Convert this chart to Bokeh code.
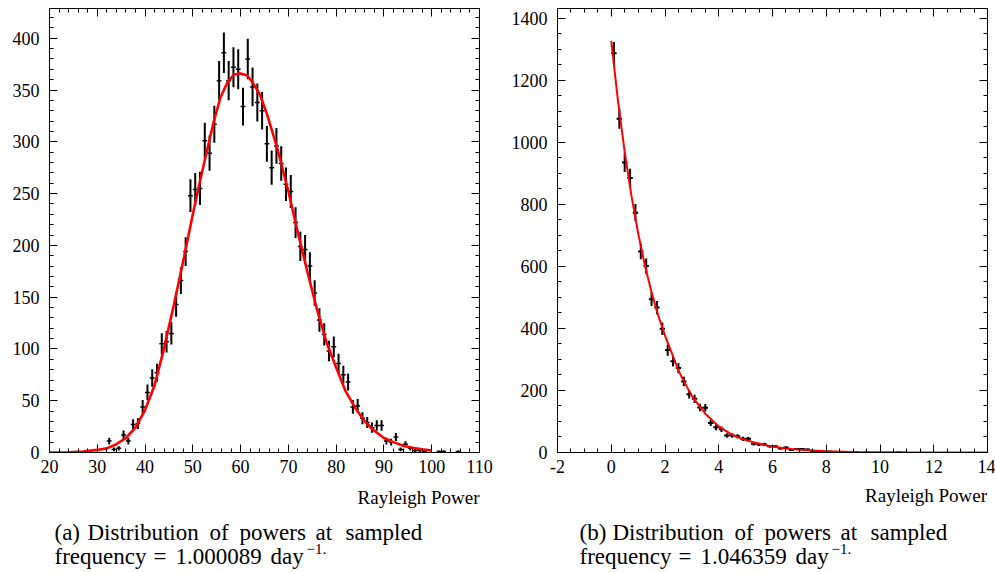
import math
from bokeh.plotting import figure
from bokeh.models import Range1d, LinearAxis, FixedTicker, Label, ColumnDataSource
from bokeh.layouts import row, column
from bokeh.embed import file_html
from bokeh.resources import INLINE

# ---------------- panel (a): histogram of Rayleigh power ----------------
a_bin_width = 1.0
a_x = [32.5, 33.5, 34.5, 35.5, 36.5, 37.5, 38.5, 39.5, 40.5, 41.5,
       42.5, 43.5, 44.5, 45.5, 46.5, 47.5, 48.5, 49.5, 50.5, 51.5,
       52.5, 53.5, 54.5, 55.5, 56.5, 57.5, 58.5, 59.5, 60.5, 61.5,
       62.5, 63.5, 64.5, 65.5, 66.5, 67.5, 68.5, 69.5, 70.5, 71.5,
       72.5, 73.5, 74.5, 75.5, 76.5, 77.5, 78.5, 79.5, 80.5, 81.5,
       82.5, 83.5, 84.5, 85.5, 86.5, 87.5, 88.5, 89.5, 90.5, 91.5,
       92.5, 93.5, 94.5, 95.5, 96.5, 97.5, 98.5, 101.5, 102.5, 105.5]
a_counts = [11, 3, 4, 17, 11, 27, 28, 44, 58, 72,
            77, 105, 107, 115, 143, 166, 194, 248, 254, 255,
            301, 289, 317, 359, 386, 359, 372, 370, 334, 380,
            353, 338, 330, 298, 275, 296, 279, 259, 252, 222,
            199, 196, 180, 154, 128, 114, 98, 102, 86, 75,
            68, 44, 45, 33, 29, 24, 26, 26, 11, 10,
            15, 3, 8, 4, 2, 2, 1, 1, 1, 1]
# fitted curve
a_fit_x = [20, 24, 27, 30, 32, 34, 36, 38, 40, 42, 44, 46, 48, 50, 51.5, 53,
           54.4, 55.8, 57.2, 58.6, 60, 61.4, 62.7, 64.1, 65.5, 67.6, 70, 72,
           74, 76, 78, 80, 82, 84, 86, 88, 90, 92, 94, 96, 98, 100]
a_fit_y = [0, 0.3, 1, 2.5, 4, 8, 14, 24, 41, 65, 101, 142, 185, 230, 262, 292,
           320, 343, 357, 365, 366, 364, 356, 345, 327, 295, 252, 212,
           174, 138, 106, 82, 59, 43, 30, 21, 14, 10, 6.5, 4.5, 3, 1.9]
a_xticks = [20, 30, 40, 50, 60, 70, 80, 90, 100, 110]
a_xminor = [20 + 2 * i for i in range(46)]
a_yticks = [0, 50, 100, 150, 200, 250, 300, 350, 400]
a_yminor = [10 * i for i in range(43)]
a_caption1 = ["(a)", "Distribution", "of", "powers", "at", "sampled"]
a_caption2 = ["frequency", "=", "1.000089", "day"]

# ---------------- panel (b) ----------------
b_bin_width = 0.2
b_x = [0.1, 0.3, 0.5, 0.7, 0.9, 1.1, 1.3, 1.5, 1.7, 1.9,
       2.1, 2.3, 2.5, 2.7, 2.9, 3.1, 3.3, 3.5, 3.7, 3.9,
       4.1, 4.3, 4.5, 4.7, 4.9, 5.1, 5.3, 5.5, 5.7, 5.9,
       6.1, 6.3, 6.5, 6.7, 6.9, 7.1, 7.3, 7.5, 7.7, 7.9,
       8.1, 8.3, 8.5, 8.7, 8.9, 9.1, 9.5, 10.7]
b_counts = [1287, 1076, 935, 885, 773, 648, 601, 494, 467, 399,
            330, 294, 272, 229, 188, 173, 145, 144, 95, 81,
            75, 55, 55, 52, 44, 44, 28, 26, 26, 20,
            20, 13, 16, 8, 11, 11, 10, 5, 4, 3,
            3, 2, 2, 1, 1, 1, 1, 1]
b_fit_x = [0, 0.25, 0.5, 0.75, 1, 1.25, 1.5, 1.75, 2, 2.25, 2.5, 2.75, 3, 3.5,
           4, 4.5, 5, 5.5, 6, 6.5, 7, 8, 9, 10, 11, 12, 14]
b_fit_y = [1327, 1134, 969, 828, 707, 604, 516, 441, 377, 321, 264, 222, 182, 125,
           84, 57, 40, 28, 19, 13, 9, 4, 2, 1, 0.5, 0.3, 0.1]
b_xticks = [-2, 0, 2, 4, 6, 8, 10, 12, 14]
b_xminor = [-2 + 0.5 * i for i in range(33)]
b_yticks = [0, 200, 400, 600, 800, 1000, 1200, 1400]
b_yminor = [50 * i for i in range(29)]
b_caption1 = ["(b)", "Distribution", "of", "powers", "at", "sampled"]
b_caption2 = ["frequency", "=", "1.046359", "day"]

x_title = "Rayleigh Power"
superscript = "\u22121."

SERIF = "Liberation Serif"
TOP_H = 485          # height of the two plot panels
CAP_H = 572 - TOP_H  # height of the caption strip


def base_axis(ticker):
    ax = LinearAxis(ticker=ticker)
    ax.axis_line_color = "black"
    ax.axis_line_width = 1
    ax.major_tick_line_color = "black"
    ax.minor_tick_line_color = "black"
    ax.major_tick_out = 0
    ax.minor_tick_out = 0
    ax.major_label_text_font = SERIF
    ax.major_label_text_color = "black"
    ax.major_label_text_font_size = "18px"
    ax.axis_label_standoff = 0
    return ax


def labelled_axis(ticks, minor, standoff):
    ax = base_axis(FixedTicker(ticks=ticks, minor_ticks=minor))
    ax.major_tick_in = 8
    ax.minor_tick_in = 4
    ax.major_label_standoff = standoff
    ax.major_label_overrides = {t: ("%g" % t) for t in ticks}
    return ax


def tick_only_axis(positions, length):
    # no major ticks -> no labels; the "minor" ticks carry the marks
    ax = base_axis(FixedTicker(ticks=[], minor_ticks=positions))
    ax.major_tick_in = 0
    ax.minor_tick_in = length
    ax.major_label_standoff = 0
    return ax


def make_panel(width, xr, yr, bl, br, bt, xt, xm, yt, ym,
               xs, counts, bw, fx, fy, lw_v, lw_h, lw_fit):
    p = figure(width=width, height=TOP_H, x_range=Range1d(*xr), y_range=Range1d(*yr),
               output_backend="svg", toolbar_location=None,
               x_axis_location=None, y_axis_location=None,
               min_border_left=bl, min_border_right=br, min_border_top=bt,
               min_border_bottom=TOP_H - 452)
    p.grid.visible = False
    p.outline_line_color = "black"
    p.outline_line_width = 1
    p.background_fill_color = "white"
    p.border_fill_color = "white"
    p.add_layout(labelled_axis(xt, xm, 7), "below")
    p.add_layout(labelled_axis(yt, ym, 10), "left")
    top_major = tick_only_axis(xt, 8)
    top_major.axis_line_color = None
    p.add_layout(top_major, "above")
    right_major = tick_only_axis(yt, 8)
    right_major.axis_line_color = None
    p.add_layout(right_major, "right")
    p.add_layout(tick_only_axis(xm, 4), "above")
    p.add_layout(tick_only_axis(ym, 4), "right")

    err = [math.sqrt(c) for c in counts]
    src = ColumnDataSource(dict(
        x=xs, y=counts,
        lo=[c - e for c, e in zip(counts, err)],
        hi=[c + e for c, e in zip(counts, err)],
        l=[x - bw / 2 for x in xs],
        r=[x + bw / 2 for x in xs]))
    p.segment(x0="x", x1="x", y0="lo", y1="hi", source=src,
              line_color="black", line_width=lw_v)
    p.segment(x0="l", x1="r", y0="y", y1="y", source=src,
              line_color="black", line_width=lw_h)
    p.line(fx, fy, line_color="#ff0000", line_width=lw_fit)
    return p


p1 = make_panel(500, (20, 110), (0, 428.7), 49, 21, 8,
                a_xticks, a_xminor, a_yticks, a_yminor,
                a_x, a_counts, a_bin_width, a_fit_x, a_fit_y, 2, 1.5, 2.6)
p2 = make_panel(495, (-2, 14), (0, 1431), 57, 8, 7,
                b_xticks, b_xminor, b_yticks, b_yminor,
                b_x, b_counts, b_bin_width, b_fit_x, b_fit_y, 2, 2, 2)

# ---------------- caption strip (page-pixel coordinates, y measured up from page bottom) ----
cap = figure(width=995, height=CAP_H, x_range=Range1d(0, 995), y_range=Range1d(0, CAP_H),
             output_backend="svg", toolbar_location=None,
             x_axis_location=None, y_axis_location=None,
             min_border_left=0, min_border_right=0, min_border_top=0, min_border_bottom=0)
cap.grid.visible = False
cap.outline_line_color = None
cap.background_fill_color = "white"
cap.border_fill_color = "white"

BASE_FIX = 6  # rendered baseline sits this much lower than requested


def put(x, y_page, text, size, align="left"):
    cap.add_layout(Label(x=x, y=572 - (y_page - BASE_FIX), text=text, text_align=align,
                         text_baseline="alphabetic", text_font=SERIF,
                         text_font_size=size, text_color="black"))


put(479, 503, x_title, "19px", "right")
put(986.5, 501, x_title, "19px", "right")

word_x = [54, 87, 209, 239, 315, 345]
line2_x = [54, 153, 175, 270]
for words, shift in ((a_caption1, 0), (b_caption1, 525)):
    for w, x in zip(words, word_x):
        put(x + shift, 538, w, "23px")
for words, shift in ((a_caption2, 0), (b_caption2, 525)):
    for w, x in zip(words, line2_x):
        put(x + shift, 562, w, "23px")
    put(306 + shift, 554, superscript, "15px")

layout = column(row(p1, p2), cap)
open("out.html", "w").write(file_html(layout, INLINE))
